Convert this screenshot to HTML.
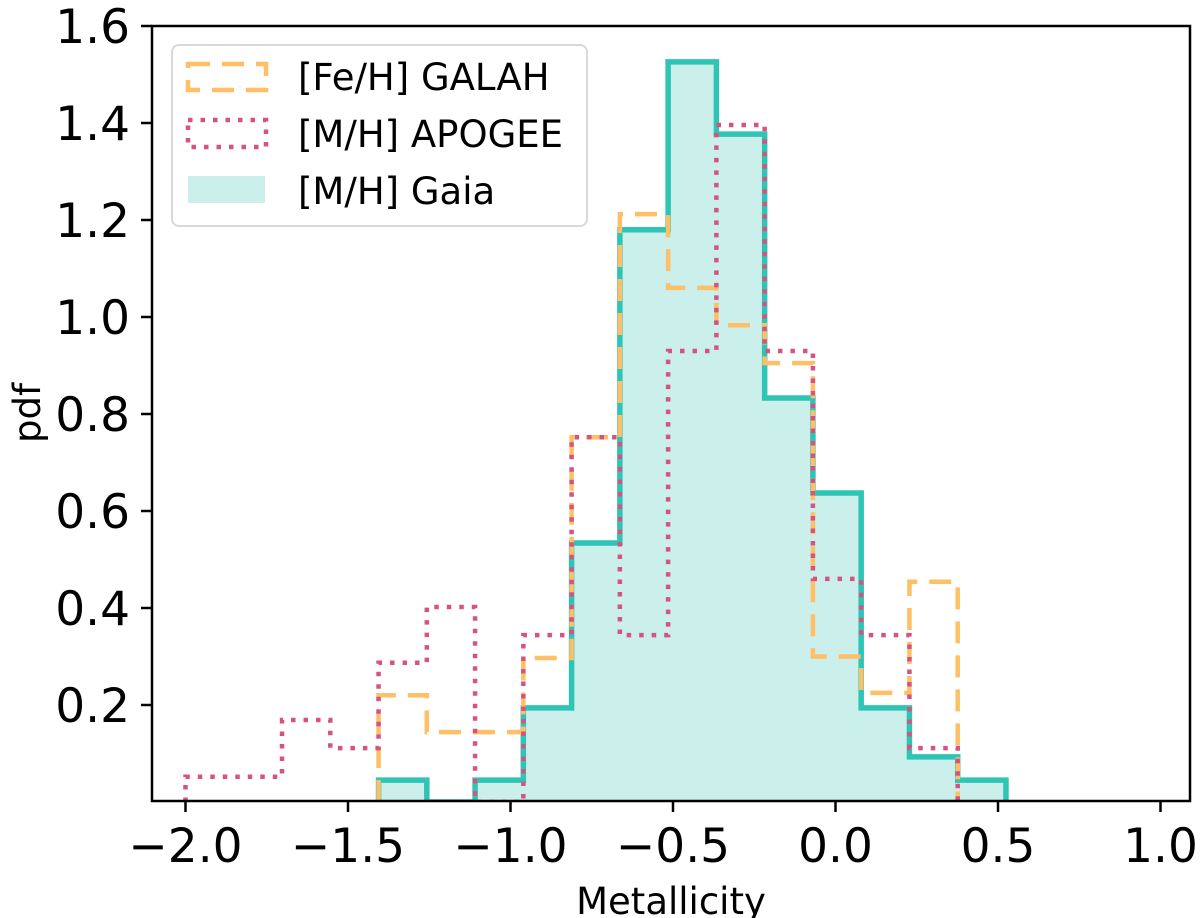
<!DOCTYPE html>
<html><head><meta charset="utf-8">
<style>
html,body{margin:0;padding:0;background:#fff;}
svg{display:block;font-family:"DejaVu Sans","Liberation Sans",sans-serif;}
</style></head>
<body>
<svg id="chart" width="1200" height="918" viewBox="0 0 1200 918">
<defs><clipPath id="plotclip"><rect x="152" y="26" width="1038" height="774"/></clipPath></defs>
<g id="marks" clip-path="url(#plotclip)"></g>
<g id="axes"></g>
<g id="legend">
  <rect x="172" y="45" width="415" height="181" rx="7" fill="#fff" fill-opacity="0.8" stroke="#d9d9d9" stroke-width="2"/>
  <rect x="188" y="64" width="78" height="26" fill="none" stroke="#ffbf66" stroke-width="4.5" stroke-dasharray="22,12"/>
  <text x="298" y="90" font-size="37">[Fe/H] GALAH</text>
  <rect x="188" y="120" width="78" height="27" fill="none" stroke="#d6537f" stroke-width="4.5" stroke-dasharray="4.5,8"/>
  <text x="298" y="147" font-size="37">[M/H] APOGEE</text>
  <rect x="188" y="176" width="77" height="27" fill="#cbefeb"/>
  <text x="298" y="204" font-size="37">[M/H] Gaia</text>
</g>
</svg>
<script>
const binStart = -2.0;
const binWidth = 0.1485;
const gaiaValues   = [0,0,0,0,0.045,0,0.045,0.194,0.534,1.18,1.526,1.377,0.833,0.637,0.194,0.093,0.045];
const galahValues  = [0,0,0,0,0.22,0.144,0.144,0.297,0.752,1.212,1.06,0.983,0.905,0.30,0.225,0.454,0];
const apogeeValues = [0.052,0.052,0.169,0.111,0.287,0.402,0,0.344,0.752,0.344,0.93,1.396,0.93,0.46,0.344,0.111,0];
const xTicks = [-2.0,-1.5,-1.0,-0.5,0.0,0.5,1.0];
const xTickLabels = ["\u22122.0","\u22121.5","\u22121.0","\u22120.5","0.0","0.5","1.0"];
const yTicks = [0.2,0.4,0.6,0.8,1.0,1.2,1.4,1.6];
const yTickLabels = ["0.2","0.4","0.6","0.8","1.0","1.2","1.4","1.6"];

const NS = "http://www.w3.org/2000/svg";
function xs(v){ return 185.5 + (v + 2) * 325; }
function ys(v){ return 802 - v * 485; }

function stepPath(vals){
  let first = vals.findIndex(v => v > 0);
  let last = vals.length - 1; while (last >= 0 && vals[last] <= 0) last--;
  let d = "M" + xs(binStart + first*binWidth) + "," + ys(0);
  for (let i = first; i <= last; i++){
    const x0 = xs(binStart + i*binWidth), x1 = xs(binStart + (i+1)*binWidth);
    d += " L" + x0 + "," + ys(vals[i]) + " L" + x1 + "," + ys(vals[i]);
  }
  d += " L" + xs(binStart + (last+1)*binWidth) + "," + ys(0);
  return d;
}
const marks = document.getElementById("marks");
function addPath(d, attrs, name){
  const p = document.createElementNS(NS, "path");
  p.setAttribute("d", d);
  for (const k in attrs) p.setAttribute(k, attrs[k]);
  
  
  marks.appendChild(p);
}
const gd = stepPath(gaiaValues);
addPath(gd + " Z", {fill:"#cbefeb", stroke:"none"}, "gaia-fill");
addPath(gd, {fill:"none", stroke:"#2ec4b6", "stroke-width":"5.5"}, "gaia-step-line");
addPath(stepPath(galahValues), {fill:"none", stroke:"#ffbf66", "stroke-width":"4.5", "stroke-dasharray":"22,12"}, "galah-step-line");
addPath(stepPath(apogeeValues), {fill:"none", stroke:"#d6537f", "stroke-width":"4.5", "stroke-dasharray":"4.5,8"}, "apogee-step-line");

const axes = document.getElementById("axes");
function el(tag, attrs, txt){
  const e = document.createElementNS(NS, tag);
  for (const k in attrs) e.setAttribute(k, attrs[k]);
  if (txt !== undefined) e.textContent = txt;
  axes.appendChild(e);
  return e;
}
const frame = el("rect", {x:152, y:26, width:1038, height:775, fill:"none", stroke:"#000", "stroke-width":2.5});


xTicks.forEach((v, i) => {
  const t = el("line", {x1:xs(v), x2:xs(v), y1:801, y2:812, stroke:"#000", "stroke-width":2.5});
  
  
  const l = el("text", {x:xs(v), y:862, "font-size":47, "text-anchor":"middle"}, xTickLabels[i]);
  
  
});
yTicks.forEach((v, i) => {
  const t = el("line", {x1:141, x2:152, y1:ys(v), y2:ys(v), stroke:"#000", "stroke-width":2.5});
  
  
  const l = el("text", {x:130, y:ys(v)+17, "font-size":47, "text-anchor":"end"}, yTickLabels[i]);
  
  
});
const xt = el("text", {x:671, y:914, "font-size":37, "text-anchor":"middle"}, "Metallicity");


const yt = el("text", {x:0, y:0, "font-size":37, "text-anchor":"middle", transform:"translate(40,413) rotate(-90)"}, "pdf");


</script>
</body></html>
